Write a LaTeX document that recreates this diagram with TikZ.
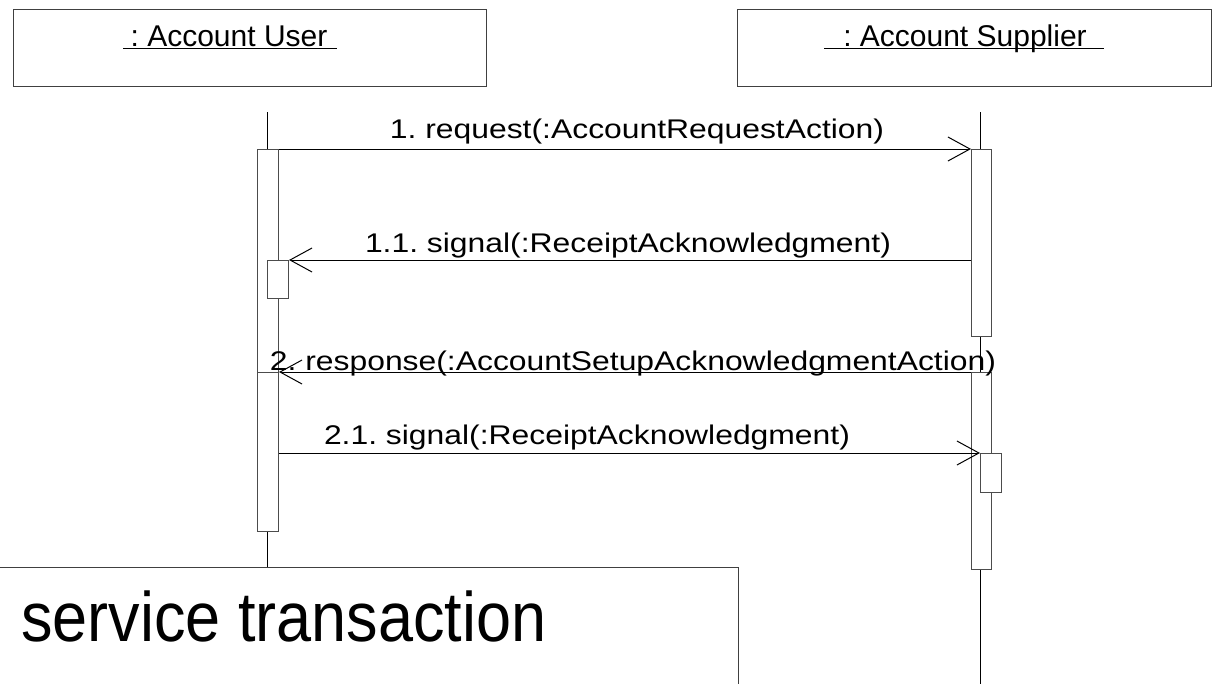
\documentclass[tikz,border=0pt]{standalone}
\usepackage{fontspec}
\setmainfont{Liberation Sans}
\newfontfamily\msgfont[FakeStretch=1.18]{Liberation Sans}
\newfontfamily\bigfont[FakeStretch=0.9]{Liberation Sans}
\usetikzlibrary{arrows.meta}
\frenchspacing
\begin{document}
\begin{tikzpicture}[x=1pt,y=-1pt,
  obj/.style={draw=black!75,line width=1pt},
  life/.style={draw=black,line width=1pt},
  bar/.style={draw=black!70,fill=white,line width=1pt,inner sep=0pt,minimum width=21pt,anchor=north west},
  msg/.style={draw=black,line width=1pt,-{Straight Barb[length=22pt,width=24pt,line width=1pt]}},
  lbl/.style={anchor=base,inner sep=0pt,font=\frenchspacing\msgfont\fontsize{27}{30}\selectfont},
  ttl/.style={anchor=base,inner sep=0pt,font=\frenchspacing\fontsize{30}{33}\selectfont}]
\useasboundingbox (0,0) rectangle (1212,683);
\begin{scope}
\clip (0,0) rectangle (1212,683);
% object boxes
\node[obj,anchor=north west,minimum width=473pt,minimum height=77pt,inner sep=0pt] (user) at (13,9) {};
\node[obj,anchor=north west,minimum width=474pt,minimum height=77pt,inner sep=0pt] (supp) at (737,9) {};
\node[ttl] (ut) at (229,46) {: Account User};
\node[ttl] (st) at (965,46) {: Account Supplier};
\draw[black,line width=1pt] (123,48) -- (337,48);
\draw[black,line width=1pt] (824,48) -- (1104,48);
% lifelines
\coordinate (utop) at (267,112);
\coordinate (ubot) at (267,567);
\coordinate (stop) at (980,112);
\coordinate (sbot) at (980,690);
\draw[life] (utop) -- (ubot);
\draw[life] (stop) -- (sbot);
% activation bars
\node[bar,minimum height=223pt] (u1) at (257,149) {};
\node[bar,minimum height=159pt] (u2) at (257,372) {};
\node[bar,minimum height=38pt] (us) at (267,260) {};
\node[bar,minimum width=20pt,minimum height=187pt] (s1) at (971,149) {};
\node[bar,minimum width=20pt,minimum height=197pt] (s2) at (971,372) {};
\node[bar,minimum height=39pt] (ss) at (980,453) {};
% messages
\draw[msg] (u1.north east) -- (s1.north west);
\node[lbl] (m1) at (637,138) {1. request(:AccountRequestAction)};
\draw[msg] (s1.west |- us.north) -- (us.north east);
\node[lbl] (m2) at (628,252) {1.1. signal(:ReceiptAcknowledgment)};
\draw[msg] (s2.north west) -- (u2.north east);
\node[lbl] (m3) at (633,370) {2. response(:AccountSetupAcknowledgmentAction)};
\draw[msg] (u2.east |- ss.north) -- (ss.north west);
\node[lbl] (m4) at (587,444) {2.1. signal(:ReceiptAcknowledgment)};
% service transaction box
\node[obj,anchor=north west,minimum width=745pt,minimum height=130pt,inner sep=0pt] (svc) at (-7,567) {};
\node[anchor=base west,inner sep=0pt,font=\bigfont\fontsize{70}{75}\selectfont] (svct) at (21,641) {service transaction};
\end{scope}
\end{tikzpicture}
\end{document}
